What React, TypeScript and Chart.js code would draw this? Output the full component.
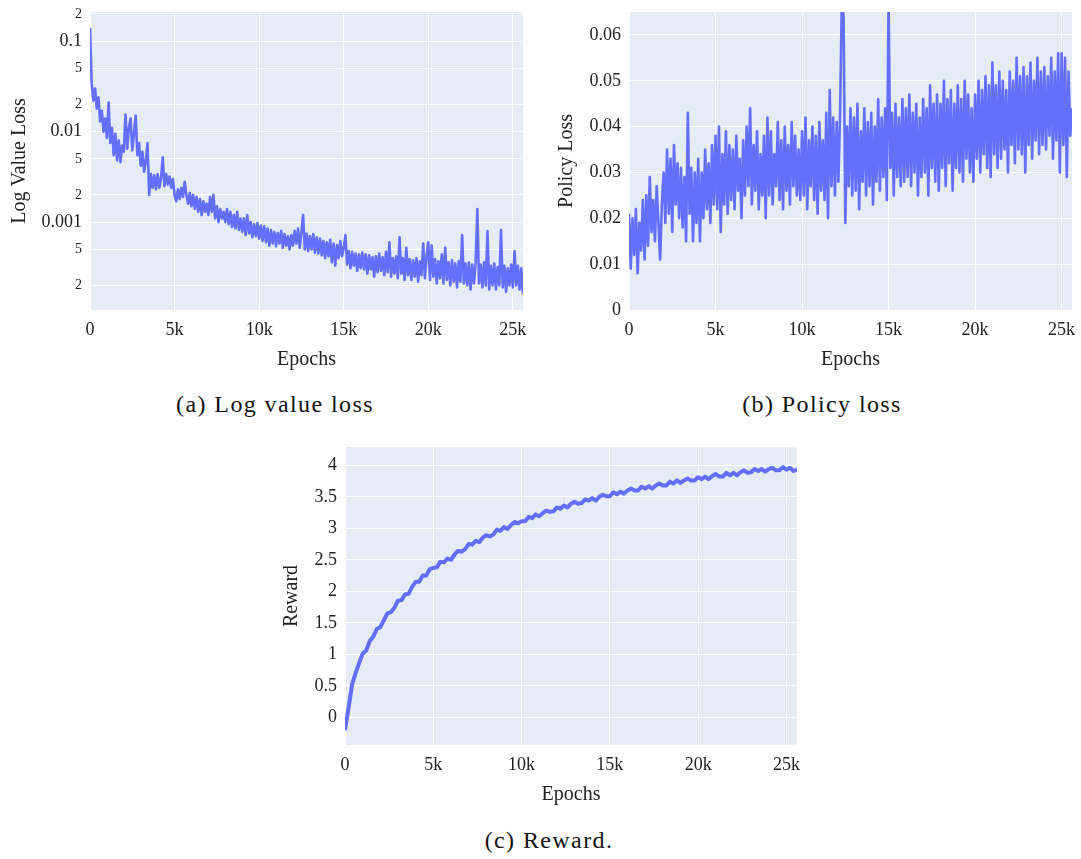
import React, { useEffect, useRef } from "react";
import { Chart, registerables } from "chart.js";

Chart.register(...registerables);

// ---------------- data ----------------
const X_MAX = 25600;
const LOSS_EPOCH_STEP = 100; // one logged point every 100 epochs
const REWARD_EPOCH_STEP = 200; // one logged point every 200 epochs
const X_TICKS = [0, 5000, 10000, 15000, 20000, 25000];
const X_TICK_LABELS = ["0", "5k", "10k", "15k", "20k", "25k"];

// (a) value loss, log scale, epochs 0..25600 step 100
const VALUE_LOSS = [
  0.14, 0.034, 0.022, 0.03, 0.018, 0.024, 0.013, 0.017, 0.01, 0.014,
  0.0085, 0.021, 0.0075, 0.011, 0.0055, 0.0095, 0.0048, 0.008, 0.0046, 0.007,
  0.006, 0.0155, 0.0065, 0.011, 0.014, 0.0062, 0.0095, 0.015, 0.0055, 0.0075,
  0.0042, 0.006, 0.0036, 0.0048, 0.0075, 0.002, 0.0034, 0.0024, 0.0033, 0.0023,
  0.0034, 0.0024, 0.0031, 0.0052, 0.0025, 0.0034, 0.0026, 0.0032, 0.0024, 0.003,
  0.002, 0.0017, 0.0023, 0.0018, 0.0024, 0.0019, 0.0028, 0.002, 0.0016, 0.0021,
  0.0015, 0.002, 0.0014, 0.0019, 0.0013, 0.0018, 0.0012, 0.0017, 0.0013, 0.0016,
  0.0012, 0.0019, 0.0013, 0.002, 0.0011, 0.0015, 0.001, 0.0014, 0.0011, 0.0013,
  0.001, 0.0014, 0.00095, 0.0013, 0.00088, 0.0012, 0.00085, 0.0013, 0.00082, 0.0011,
  0.00078, 0.0011, 0.00072, 0.0012, 0.00075, 0.001, 0.00068, 0.00095, 0.0007, 0.00098,
  0.00066, 0.00092, 0.00062, 0.0009, 0.0006, 0.00085, 0.00055, 0.00082, 0.00058, 0.00078,
  0.00054, 0.00076, 0.00058, 0.0008, 0.00052, 0.00074, 0.00055, 0.0007, 0.0005, 0.00072,
  0.00055, 0.0008, 0.00058, 0.00085, 0.00052, 0.00078, 0.0012, 0.0005, 0.00075, 0.00048,
  0.0007, 0.0005, 0.00074, 0.00046, 0.00068, 0.00045, 0.00066, 0.00043, 0.00062, 0.0004,
  0.0006, 0.00042, 0.00064, 0.00036, 0.00058, 0.00033, 0.00056, 0.0004, 0.00062, 0.00042,
  0.00052, 0.00072, 0.00034, 0.00048, 0.00031, 0.00047, 0.00033, 0.00045, 0.00029, 0.00044,
  0.00031, 0.00046, 0.0003, 0.00044, 0.00027, 0.00043, 0.0003, 0.00041, 0.00025, 0.00042,
  0.00028, 0.00045, 0.00029, 0.00041, 0.00026, 0.00047, 0.00028, 0.0006, 0.00025, 0.0004,
  0.00027, 0.00042, 0.00024, 0.00068, 0.00027, 0.0004, 0.00023, 0.00052, 0.00026, 0.00039,
  0.00023, 0.00038, 0.00025, 0.0004, 0.00022, 0.00037, 0.00026, 0.00058, 0.00024, 0.00042,
  0.0006, 0.00023, 0.00055, 0.00025, 0.00039, 0.00021, 0.00037, 0.00024, 0.00044, 0.00021,
  0.00052, 0.00023, 0.00036, 0.0002, 0.00038, 0.00022, 0.00035, 0.00019, 0.00037, 0.00022,
  0.00072, 0.00021, 0.00035, 0.0002, 0.00036, 0.00018, 0.00034, 0.00021, 0.00036, 0.0014,
  0.00021, 0.00034, 0.00019, 0.00036, 0.0002, 0.0008, 0.00018, 0.00033, 0.0002, 0.00035,
  0.00018, 0.00032, 0.0002, 0.00082, 0.00019, 0.00033, 0.00017, 0.00031, 0.0002, 0.00034,
  0.00019, 0.00048, 0.0002, 0.00033, 0.00018, 0.00031, 0.00016,
];

// (b) policy loss, epochs 0..25600 step 100
const POLICY_LOSS = [
  0.021, 0.009, 0.02, 0.012, 0.022, 0.008, 0.019, 0.013, 0.024, 0.011,
  0.025, 0.014, 0.029, 0.017, 0.024, 0.015, 0.027, 0.019, 0.011, 0.023,
  0.03, 0.019, 0.035, 0.021, 0.033, 0.017, 0.036, 0.023, 0.032, 0.02,
  0.031, 0.018, 0.029, 0.015, 0.043, 0.021, 0.031, 0.015, 0.03, 0.019,
  0.033, 0.015, 0.03, 0.02, 0.035, 0.022, 0.032, 0.019, 0.036, 0.023,
  0.038, 0.022, 0.04, 0.017, 0.034, 0.023, 0.039, 0.021, 0.036, 0.024,
  0.035, 0.022, 0.038, 0.026, 0.033, 0.02, 0.037, 0.025, 0.04, 0.027,
  0.044, 0.023, 0.036, 0.026, 0.039, 0.022, 0.034, 0.025, 0.038, 0.02,
  0.042, 0.025, 0.039, 0.023, 0.034, 0.027, 0.041, 0.024, 0.037, 0.022,
  0.04, 0.026, 0.036, 0.023, 0.041, 0.027, 0.038, 0.025, 0.035, 0.024,
  0.039, 0.025, 0.042, 0.022, 0.037, 0.027, 0.04, 0.024, 0.038, 0.021,
  0.041, 0.026, 0.037, 0.024, 0.043, 0.02, 0.048, 0.027, 0.042, 0.025,
  0.041, 0.028, 0.043, 0.068, 0.064, 0.019, 0.04, 0.027, 0.044, 0.025,
  0.042, 0.026, 0.045, 0.022, 0.039, 0.028, 0.044, 0.025, 0.041, 0.027,
  0.043, 0.023, 0.04, 0.028, 0.046, 0.026, 0.042, 0.029, 0.044, 0.024,
  0.068, 0.031, 0.043, 0.025, 0.045, 0.029, 0.042, 0.027, 0.046, 0.028,
  0.044, 0.029, 0.047, 0.027, 0.043, 0.03, 0.045, 0.025, 0.042, 0.029,
  0.046, 0.03, 0.044, 0.025, 0.049, 0.031, 0.045, 0.028, 0.047, 0.026,
  0.045, 0.031, 0.05, 0.027, 0.046, 0.032, 0.048, 0.026, 0.045, 0.031,
  0.049, 0.03, 0.046, 0.028, 0.05, 0.033, 0.047, 0.03, 0.044, 0.028,
  0.047, 0.033, 0.05, 0.03, 0.048, 0.034, 0.051, 0.031, 0.049, 0.029,
  0.054, 0.034, 0.049, 0.031, 0.052, 0.033, 0.05, 0.035, 0.048, 0.03,
  0.052, 0.036, 0.05, 0.032, 0.055, 0.035, 0.051, 0.034, 0.053, 0.03,
  0.051, 0.036, 0.054, 0.033, 0.05, 0.037, 0.055, 0.034, 0.052, 0.036,
  0.053, 0.035, 0.051, 0.038, 0.055, 0.033, 0.052, 0.037, 0.056, 0.03,
  0.056, 0.036, 0.055, 0.029, 0.052, 0.038, 0.044,
];

// (c) reward, epochs 0..25600 step 200
const REWARD = [
  -0.2, 0.15, 0.52, 0.7, 0.86, 1.01, 1.06, 1.21, 1.28, 1.4,
  1.43, 1.54, 1.65, 1.67, 1.74, 1.85, 1.86, 1.95, 1.96, 2.07,
  2.15, 2.15, 2.25, 2.25, 2.35, 2.37, 2.38, 2.47, 2.46, 2.52,
  2.5, 2.58, 2.64, 2.63, 2.67, 2.75, 2.74, 2.8, 2.78, 2.85,
  2.89, 2.87, 2.9, 2.98, 2.96, 3.02, 2.99, 3.05, 3.1, 3.08,
  3.11, 3.11, 3.18, 3.16, 3.22, 3.19, 3.24, 3.28, 3.26, 3.27,
  3.33, 3.31, 3.36, 3.33, 3.39, 3.42, 3.39, 3.4, 3.46, 3.44,
  3.48, 3.44, 3.5, 3.53, 3.51, 3.51, 3.57, 3.54, 3.58, 3.55,
  3.6, 3.63, 3.6, 3.6, 3.66, 3.63, 3.67, 3.63, 3.68, 3.71,
  3.68, 3.68, 3.74, 3.71, 3.76, 3.72, 3.76, 3.79, 3.76, 3.76,
  3.81, 3.78, 3.82, 3.78, 3.83, 3.86, 3.82, 3.82, 3.88, 3.84,
  3.88, 3.84, 3.89, 3.92, 3.88, 3.89, 3.94, 3.91, 3.94, 3.9,
  3.94, 3.96, 3.92, 3.92, 3.97, 3.93, 3.96, 3.91, 3.93,
];

const LOG_TICKS = [0.0002, 0.0005, 0.001, 0.002, 0.005, 0.01, 0.02, 0.05, 0.1, 0.2];
const LOG_TICK_LABELS = ["2", "5", "0.001", "2", "5", "0.01", "2", "5", "0.1", "2"];
const POLICY_TICKS = [0, 0.01, 0.02, 0.03, 0.04, 0.05, 0.06];
const POLICY_TICK_LABELS = ["0", "0.01", "0.02", "0.03", "0.04", "0.05", "0.06"];
const REWARD_TICKS = [0, 0.5, 1, 1.5, 2, 2.5, 3, 3.5, 4];
const REWARD_TICK_LABELS = ["0", "0.5", "1", "1.5", "2", "2.5", "3", "3.5", "4"];

// ---------------- styles ----------------
const FONT = "'Liberation Serif', 'Times New Roman', serif";
const TEXT = "#222";
const LINE_COLOR = "#636EFA";
const PLOT_BG = "#E5ECF6";

const plotBg = {
  id: "plotBg",
  beforeDraw(chart: any) {
    const { ctx, chartArea } = chart;
    if (!chartArea) return;
    ctx.save();
    ctx.fillStyle = PLOT_BG;
    ctx.fillRect(chartArea.left, chartArea.top, chartArea.right - chartArea.left, chartArea.bottom - chartArea.top);
    ctx.restore();
  },
};

type PanelProps = {
  left: number;
  top: number;
  width: number;
  height: number;
  values: number[];
  step: number;
  lineWidth: number;
  yType: "linear" | "logarithmic";
  yMin: number;
  yMax: number;
  yTicks: number[];
  yTickLabels: string[];
  yTitle: string;
  yAxisWidth: number;
  yTitlePad: number;
  padTop: number;
  padRight: number;
  xAxisHeight: number;
};

function Panel(p: PanelProps) {
  const ref = useRef<HTMLCanvasElement | null>(null);
  useEffect(() => {
    if (!ref.current) return;
    const points = p.values.map((v, i) => ({ x: i * p.step, y: v }));
    const chart = new Chart(ref.current, {
      type: "line",
      data: {
        datasets: [
          {
            data: points,
            borderColor: LINE_COLOR,
            borderWidth: p.lineWidth,
            pointRadius: 0,
            tension: 0,
            fill: false,
            borderJoinStyle: "round",
          } as any,
        ],
      },
      plugins: [plotBg],
      options: {
        animation: false,
        responsive: false,
        events: [],
        layout: {
          autoPadding: false,
          padding: { top: p.padTop, right: p.padRight, left: 0, bottom: 0 },
        },
        plugins: { legend: { display: false }, tooltip: { enabled: false } },
        scales: {
          x: {
            type: "linear",
            min: 0,
            max: X_MAX,
            afterBuildTicks: (s: any) => {
              s.ticks = X_TICKS.map((v) => ({ value: v }));
            },
            afterFit: (s: any) => {
              s.height = p.xAxisHeight;
              s.paddingLeft = 0;
              s.paddingRight = 0;
            },
            ticks: {
              autoSkip: false,
              maxRotation: 0,
              padding: 9,
              color: TEXT,
              font: { family: FONT, size: 18 },
              callback: (_v: any, i: number) => X_TICK_LABELS[i],
            },
            grid: { color: "#ffffff", lineWidth: 1, drawTicks: false },
            border: { display: false },
            title: {
              display: true,
              text: "Epochs",
              color: TEXT,
              font: { family: FONT, size: 20 },
              padding: { top: 0, bottom: 8 },
            },
          },
          y: {
            type: p.yType,
            min: p.yMin,
            max: p.yMax,
            afterBuildTicks: (s: any) => {
              s.ticks = p.yTicks.map((v) => ({ value: v }));
            },
            afterFit: (s: any) => {
              s.width = p.yAxisWidth;
              s.paddingTop = 0;
              s.paddingBottom = 0;
            },
            ticks: {
              autoSkip: false,
              padding: 8,
              color: TEXT,
              font: (ctx: any) => {
                const lbl = p.yTickLabels[ctx.index] || "";
                const minor = p.yType === "logarithmic" && lbl.indexOf(".") < 0;
                return { family: FONT, size: minor ? 14 : 18 };
              },
              callback: (_v: any, i: number) => p.yTickLabels[i],
            },
            grid: { color: "#ffffff", lineWidth: 1, drawTicks: false },
            border: { display: false },
            title: {
              display: true,
              text: p.yTitle,
              color: TEXT,
              font: { family: FONT, size: 20 },
              padding: { top: p.yTitlePad, bottom: 0 },
            },
          },
        } as any,
      },
    });
    return () => chart.destroy();
  }, []);
  return (
    <canvas
      ref={ref}
      width={p.width}
      height={p.height}
      style={{ position: "absolute", left: p.left, top: p.top, width: p.width, height: p.height }}
    />
  );
}

const captionStyle = (cx: number, cy: number): React.CSSProperties => ({
  position: "absolute",
  left: cx,
  top: cy,
  transform: "translate(-50%, -50%)",
  fontFamily: FONT,
  fontSize: 24,
  letterSpacing: "1.4px",
  whiteSpace: "nowrap",
  color: "#111",
  lineHeight: 1,
});

export default function App() {
  return (
    <div style={{ position: "absolute", left: 0, top: 0, width: 1081, height: 859, background: "#fff", overflow: "hidden" }}>
      <Panel
        left={0}
        top={0}
        width={540}
        height={380}
        values={VALUE_LOSS}
        step={LOSS_EPOCH_STEP}
        lineWidth={2.6}
        yType="logarithmic"
        yMin={0.000107}
        yMax={0.21}
        yTicks={LOG_TICKS}
        yTickLabels={LOG_TICK_LABELS}
        yTitle="Log Value Loss"
        yAxisWidth={90}
        yTitlePad={8}
        padTop={12}
        padRight={17}
        xAxisHeight={70}
      />
      <Panel
        left={540}
        top={0}
        width={541}
        height={380}
        values={POLICY_LOSS}
        step={LOSS_EPOCH_STEP}
        lineWidth={2.6}
        yType="linear"
        yMin={0}
        yMax={0.065}
        yTicks={POLICY_TICKS}
        yTickLabels={POLICY_TICK_LABELS}
        yTitle="Policy Loss"
        yAxisWidth={89}
        yTitlePad={15}
        padTop={12}
        padRight={9}
        xAxisHeight={70}
      />
      <Panel
        left={270}
        top={430}
        width={540}
        height={385}
        values={REWARD}
        step={REWARD_EPOCH_STEP}
        lineWidth={4}
        yType="linear"
        yMin={-0.44}
        yMax={4.29}
        yTicks={REWARD_TICKS}
        yTickLabels={REWARD_TICK_LABELS}
        yTitle="Reward"
        yAxisWidth={75}
        yTitlePad={10}
        padTop={17}
        padRight={13}
        xAxisHeight={70}
      />
      <div style={captionStyle(275, 404)}>(a) Log value loss</div>
      <div style={captionStyle(822, 404)}>(b) Policy loss</div>
      <div style={captionStyle(549, 840)}>(c) Reward.</div>
    </div>
  );
}
